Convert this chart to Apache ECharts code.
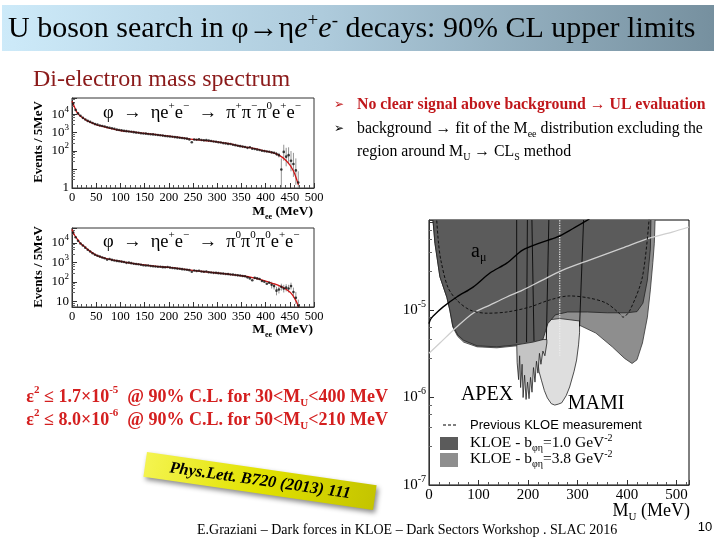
<!DOCTYPE html>
<html><head><meta charset="utf-8">
<script src="https://cdn.jsdelivr.net/npm/echarts@6/dist/echarts.min.js"></script>
<style>html,body{margin:0;padding:0;background:#fff;}#c{width:720px;height:540px;}</style>
</head><body><div id="c"></div>
<script>
// ---------- data: di-electron mass spectra (5 MeV bins) ----------
const binCenters = [2.5,7.5,12.5,17.5,22.5,27.5,32.5,37.5,42.5,47.5,
 52.5,57.5,62.5,67.5,72.5,77.5,82.5,87.5,92.5,97.5,
 102.5,107.5,112.5,117.5,122.5,127.5,132.5,137.5,142.5,147.5,
 152.5,157.5,162.5,167.5,172.5,177.5,182.5,187.5,192.5,197.5,
 202.5,207.5,212.5,217.5,222.5,227.5,232.5,237.5,242.5,247.5,
 252.5,257.5,262.5,267.5,272.5,277.5,282.5,287.5,292.5,297.5,
 302.5,307.5,312.5,317.5,322.5,327.5,332.5,337.5,342.5,347.5,
 352.5,357.5,362.5,367.5,372.5,377.5,382.5,387.5,392.5,397.5,
 402.5,407.5,412.5,417.5,422.5,427.5,432.5,437.5,442.5,447.5,
 452.5,457.5,462.5,467.5];
const events1 = [38000,17000,11000,8200,6300,5100,4300,3800,3300,2900,
 2700,2450,2300,2150,1950,1850,1700,1600,1450,1380,
 1320,1250,1200,1150,1120,1060,1000,980,930,900,
 880,840,820,800,770,740,720,690,660,640,
 620,600,570,550,530,510,490,470,430,300,
 420,410,430,400,380,390,370,350,330,320,
 300,290,270,260,245,240,220,210,195,185,
 175,165,150,160,135,130,120,115,105,100,
 95,92,85,80,70,60,10,90,50,60,
 30,20,9,2];
const events2 = [35000,20000,13000,9500,7500,5800,4500,3700,3000,2500,
 2200,2000,1800,1650,1400,1500,1350,1250,1200,1150,
 1100,1050,950,980,920,860,830,800,760,720,
 700,690,650,640,620,600,600,570,560,580,
 540,520,500,480,470,450,430,420,400,330,
 380,360,370,340,330,340,310,300,290,290,
 280,270,265,255,250,240,235,225,215,210,
 200,195,170,150,120,160,150,140,110,100,
 80,90,70,60,35,40,55,45,50,45,
 60,30,15,6];
const fitMass = [0,2.5,5,10,15,20,25,30,40,50,60,75,100,125,150,175,200,225,250,275,300,325,350,375,400,420,430,440,450,455,460,465,468];
const fitValues1 = [50000,35000,25000,13000,9000,7000,5600,4600,3500,2700,2300,1800,1300,1100,900,770,650,530,425,370,316,250,180,140,100,75,55,35,18,11,6,2.5,1.5];
const fitValues2 = [50000,35000,26000,17000,11500,8500,6800,5200,3400,2400,1900,1500,1150,900,740,620,550,470,390,330,285,245,205,160,110,75,60,45,30,22,14,8,5];
const errMass1 = [422.5,427.5,432.5,437.5,442.5,447.5,452.5,457.5,462.5,467.5];
const errLow1  = [55,45,1,30,15,20,8,4,1.5,1];
const errHigh1 = [90,80,40,220,150,160,100,80,40,8];
const errMass2 = [412.5,417.5,422.5,427.5,432.5,437.5,442.5,447.5,452.5,457.5,462.5,467.5];
const errLow2  = [45,40,20,25,35,28,32,28,40,15,7,5];
const errHigh2 = [100,85,55,60,80,70,75,70,90,50,30,12];

// ---------- data: exclusion plot (M_U [MeV], epsilon^2) ----------
const regionKLOE38 = [[7,2e-4],[8,1.07e-4],[12,5.8e-5],[22,2.4e-5],[36,1.4e-5],[42,1.0e-5],[48,6.4e-6],[58,5.0e-6],[70,4.3e-6],[97,3.8e-6],[137,3.7e-6],[177,3.9e-6],[200,4.2e-6],[220,5.2e-6],[250,6.4e-6],[304,6.7e-6],[337,5.45e-6],[370,3.8e-6],[395,2.8e-6],[410,2.45e-6],[420,2.7e-6],[431,4.2e-6],[441,8.3e-6],[447,1.7e-5],[452,3.5e-5],[455,5.8e-5],[458,2e-4]];
const regionKLOE10 = [[7,2e-4],[8,1.07e-4],[12,5.8e-5],[22,2.4e-5],[36,1.4e-5],[42,1.0e-5],[48,6.6e-6],[58,5.2e-6],[70,4.5e-6],[97,3.9e-6],[137,3.8e-6],[177,4.0e-6],[210,4.3e-6],[230,4.6e-6],[240,7.0e-6],[255,8.8e-6],[280,9.5e-6],[320,9.5e-6],[360,9.3e-6],[400,9.3e-6],[420,9.6e-6],[432,1.2e-5],[441,2.2e-5],[447,5e-5],[449,2e-4]];
const regionMAMI = [[223,7.5e-6],[220,5e-6],[219,2.9e-6],[222,2.0e-6],[227,1.58e-6],[233,1.2e-6],[239,9.9e-7],[247,8.5e-7],[254,8.2e-7],[261,8.4e-7],[268,8.7e-7],[277,1.05e-6],[284,1.32e-6],[293,2.0e-6],[298,2.68e-6],[302,4.0e-6],[304,5.5e-6],[304,7.5e-6],[264,8.0e-6]];
const regionAPEX = [[177,4.4e-6],[178,2.5e-6],[181,1.6e-6],[183,3.0e-6],[185,1.3e-6],[188,2.4e-6],[190,1.0e-6],[193,1.8e-6],[196,9.5e-7],[199,1.5e-6],[202,9.7e-7],[205,1.7e-6],[208,1.15e-6],[211,2.2e-6],[214,1.5e-6],[217,2.6e-6],[220,1.9e-6],[223,3.2e-6],[226,2.4e-6],[230,3.4e-6],[234,3.0e-6],[238,4.2e-6],[238,4.6e-6],[177,4.6e-6]];
const amuCurve = [[0,7.0e-6],[3,7.8e-6],[8,8.5e-6],[28,1.08e-5],[56,1.41e-5],[89,1.83e-5],[123,2.65e-5],[157,3.44e-5],[189,4.85e-5],[223,5.83e-5],[258,6.8e-5],[290,8.5e-5],[324,1.1e-4]];
const lightCurve = [[0,3.2e-6],[22,4.2e-6],[56,6.4e-6],[89,9.2e-6],[123,1.14e-5],[157,1.41e-5],[189,1.69e-5],[229,2.2e-5],[270,2.86e-5],[324,3.73e-5],[390,5.1e-5],[445,6.65e-5],[491,7.8e-5],[525,8.9e-5]];
const prevKLOE = [[15,1.2e-4],[19,6e-5],[24,3.7e-5],[38,1.83e-5],[56,1.3e-5],[83,1.0e-5],[117,9.2e-6],[157,9.5e-6],[203,1.08e-5],[243,1.3e-5],[284,1.45e-5],[324,1.37e-5],[358,1.2e-5],[384,9.2e-6],[392,8.3e-6],[406,1.0e-5],[431,2.4e-5],[445,1.2e-4]];
const apexLines = [[177,2e-4,177,4.2e-6],[199,2e-4,197,4.3e-6],[207,2e-4,212,4.4e-6],[243,2e-4,237,4.6e-6],[314,2e-4,304,6.5e-6]];
const dottedLine = [[264,2e-4],[264,3e-6]];

// ---------- helpers ----------
const SERIF = 'Liberation Serif';
function tok(fs, o, extra) {
  return Object.assign({fontSize: fs, fontFamily: o.family || SERIF, fontWeight: o.weight || 'normal',
    fontStyle: 'normal', fill: o.color || '#000', color: o.color || '#000'}, extra || {});
}
function txt(x, y, text, o) {
  o = o || {};
  const fs = o.size || 14;
  const small = Math.round(fs * 0.62);
  return {type: 'text', x: x, y: y, rotation: o.rot || 0, z: 100, silent: true,
    style: {text: text, fontSize: fs, fontFamily: o.family || SERIF, fontWeight: o.weight || 'normal',
      fontStyle: o.italic ? 'italic' : 'normal', fill: o.color || '#000',
      align: o.align || 'left', textAlign: o.align || 'left', verticalAlign: 'middle', textVerticalAlign: 'middle',
      lineHeight: o.lh || Math.round(fs * 1.3),
      rich: {
        sp: tok(small, o, {verticalAlign: 'top'}),
        sb: tok(small, o, {verticalAlign: 'bottom'}),
        i: tok(fs, o, {fontStyle: 'italic', lineHeight: o.lh || Math.round(fs * 1.3)})
      }}};
}
function powLabelFn(maxExp) {
  return function (v) {
    const l = Math.log10(v), e = Math.round(l);
    if (Math.abs(l - e) > 1e-6 || e > maxExp) return '';
    if (e === 0) return '1';
    if (e === 1) return '10';
    return '10{sp|' + e + '}';
  };
}
function pairs(xs, ys) { return xs.map((x, i) => [x, ys[i]]); }

const axisCol = '#333';
function xAx(g, max, interval, fs) {
  return {gridIndex: g, type: 'value', min: 0, max: max, interval: interval,
    axisLine: {show: true, onZero: false, lineStyle: {color: axisCol}},
    axisTick: {show: true, inside: true, length: 5, lineStyle: {color: axisCol}},
    minorTick: {show: true, splitNumber: 5, length: 3, lineStyle: {color: '#555'}},
    splitLine: {show: false},
    axisLabel: {fontFamily: SERIF, fontSize: fs, color: '#000', margin: 3, showMaxLabel: max === 500}};
}
function yAx(g, min, max, fs, showMin, maxExp) {
  return {gridIndex: g, type: 'log', logBase: 10, min: min, max: max,
    axisLine: {show: true, onZero: false, lineStyle: {color: axisCol}},
    axisTick: {show: true, inside: true, length: 5, lineStyle: {color: axisCol}},
    minorTick: {show: true, splitNumber: 5, length: 3, lineStyle: {color: '#666'}},
    splitLine: {show: false},
    axisLabel: {fontFamily: SERIF, fontSize: fs, color: '#000', margin: 3, lineHeight: Math.round(fs * 1.45),
      showMinLabel: showMin, showMaxLabel: false, formatter: powLabelFn(maxExp),
      rich: {sp: {fontFamily: SERIF, fontSize: Math.round(fs * 0.68), color: '#000', verticalAlign: 'top'}}}};
}
function errSeries(xi, yi, xs, lo, hi) {
  return {type: 'custom', xAxisIndex: xi, yAxisIndex: yi, silent: true, clip: true, z: 2,
    data: xs.map((x, i) => [x, lo[i], hi[i]]),
    renderItem: function (params, api) {
      const a = api.coord([api.value(0), api.value(1)]);
      const b = api.coord([api.value(0), api.value(2)]);
      return {type: 'line', shape: {x1: a[0], y1: a[1], x2: b[0], y2: b[1]}, style: {stroke: '#777', lineWidth: 0.8}};
    }};
}
function polySeries(poly, fill, stroke) {
  return {type: 'custom', xAxisIndex: 2, yAxisIndex: 2, silent: true, clip: true, z: 1,
    data: [poly[0]],
    renderItem: function (params, api) {
      return {type: 'polygon', shape: {points: poly.map(p => api.coord(p))},
        style: {fill: fill, stroke: stroke, lineWidth: 0.8}};
    }};
}

const chart = echarts.init(document.getElementById('c'), null, {renderer: 'canvas'});
const option = {
  animation: false,
  backgroundColor: '#ffffff',
  grid: [
    {left: 72, top: 98, width: 242, height: 90, show: true, borderColor: axisCol, borderWidth: 1, backgroundColor: 'transparent'},
    {left: 72, top: 228, width: 242, height: 79, show: true, borderColor: axisCol, borderWidth: 1, backgroundColor: 'transparent'},
    {left: 429, top: 220, width: 260, height: 265, show: true, borderColor: '#000', borderWidth: 1, backgroundColor: 'transparent'}
  ],
  xAxis: [xAx(0, 500, 50, 12.5), xAx(1, 500, 50, 12.5), xAx(2, 525, 100, 15)],
  yAxis: [yAx(0, 1, 75000, 13, true, 99), yAx(1, 5, 60000, 13, false, 99), yAx(2, 1e-7, 1.07e-4, 15, true, -5)],
  series: [
    errSeries(0, 0, errMass1, errLow1, errHigh1),
    {type: 'line', xAxisIndex: 0, yAxisIndex: 0, data: pairs(fitMass, fitValues1), smooth: 0.3, showSymbol: false,
      lineStyle: {color: '#d01515', width: 1.3}, z: 3, silent: true},
    {type: 'scatter', xAxisIndex: 0, yAxisIndex: 0, data: pairs(binCenters, events1), symbolSize: 2.6,
      itemStyle: {color: '#111'}, z: 4, silent: true},
    errSeries(1, 1, errMass2, errLow2, errHigh2),
    {type: 'line', xAxisIndex: 1, yAxisIndex: 1, data: pairs(fitMass, fitValues2), smooth: 0.3, showSymbol: false,
      lineStyle: {color: '#d01515', width: 1.3}, z: 3, silent: true},
    {type: 'scatter', xAxisIndex: 1, yAxisIndex: 1, data: pairs(binCenters, events2), symbolSize: 2.6,
      itemStyle: {color: '#111'}, z: 4, silent: true},
    polySeries(regionKLOE38, '#8e8e8e', '#333'),
    polySeries(regionMAMI, '#dedede', '#222'),
    polySeries(regionAPEX, '#c4c4c4', '#222'),
    polySeries(regionKLOE10, '#5b5b5b', '#222'),
    {type: 'custom', xAxisIndex: 2, yAxisIndex: 2, silent: true, clip: true, z: 2,
      data: apexLines,
      renderItem: function (params, api) {
        const a = api.coord([api.value(0), api.value(1)]);
        const b = api.coord([api.value(2), api.value(3)]);
        return {type: 'line', shape: {x1: a[0], y1: a[1], x2: b[0], y2: b[1]}, style: {stroke: '#111', lineWidth: 1}};
      }},
    {type: 'line', xAxisIndex: 2, yAxisIndex: 2, data: dottedLine, showSymbol: false, silent: true, z: 3,
      lineStyle: {color: '#eeeeee', width: 1.2, type: 'dotted'}},
    {type: 'line', xAxisIndex: 2, yAxisIndex: 2, data: lightCurve, smooth: 0.3, showSymbol: false, silent: true, z: 3,
      lineStyle: {color: '#cfcfcf', width: 1.3}},
    {type: 'line', xAxisIndex: 2, yAxisIndex: 2, data: prevKLOE, smooth: 0.3, showSymbol: false, silent: true, z: 3,
      lineStyle: {color: '#111', width: 1, type: [3, 2]}},
    {type: 'line', xAxisIndex: 2, yAxisIndex: 2, data: amuCurve, smooth: 0.3, showSymbol: false, silent: true, z: 3,
      lineStyle: {color: '#000', width: 1.4}}
  ],
  graphic: [
    {type: 'rect', z: 0, silent: true, shape: {x: 2, y: 5, width: 712, height: 46},
      style: {fill: new echarts.graphic.LinearGradient(0, 0, 1, 0, [
        {offset: 0, color: '#cdeaf9'}, {offset: 0.45, color: '#aecbdc'}, {offset: 1, color: '#76909f'}])}},
    txt(8, 29, 'U boson search in φ→η{i|e}{sp|+}{i|e}{sp|-} decays: 90% CL upper limits', {size: 30, lh: 34}),
    txt(33, 80, 'Di-electron mass spectrum', {size: 24, color: '#8b1a1a'}),
    txt(334, 105, '➢', {size: 12, family: 'DejaVu Sans', color: '#c0171b'}),
    txt(357, 105, 'No clear signal above background → UL evaluation', {size: 15.8, weight: 'bold', color: '#c0171b'}),
    txt(334, 129, '➢', {size: 12, family: 'DejaVu Sans'}),
    txt(357, 129, 'background → fit of the M{sb|ee} distribution excluding the', {size: 15.8, lh: 20}),
    txt(357, 152, 'region around M{sb|U} → CL{sb|S} method', {size: 15.8, lh: 20}),
    txt(103, 113, 'φ  →  ηe{sp|+}e{sp|−}  →  π{sp|+}π{sp|−}π{sp|0}e{sp|+}e{sp|−}', {size: 18.5}),
    txt(103, 242, 'φ  →  ηe{sp|+}e{sp|−}  →  π{sp|0}π{sp|0}π{sp|0}e{sp|+}e{sp|−}', {size: 18.5}),
    txt(39, 142, 'Events / 5MeV', {size: 13, weight: 'bold', rot: Math.PI / 2, align: 'center'}),
    txt(39, 267, 'Events / 5MeV', {size: 13, weight: 'bold', rot: Math.PI / 2, align: 'center'}),
    txt(313, 212, 'M{sb|ee} (MeV)', {size: 13.5, weight: 'bold', align: 'right', lh: 18}),
    txt(313, 330, 'M{sb|ee} (MeV)', {size: 13.5, weight: 'bold', align: 'right', lh: 18}),
    txt(388, 397, 'ε{sp|2} ≤ 1.7×10{sp|-5}  @ 90% C.L. for 30<M{sb|U}<400 MeV', {size: 18, weight: 'bold', color: '#d41f1f', align: 'right', lh: 24}),
    txt(388, 420, 'ε{sp|2} ≤ 8.0×10{sp|-6}  @ 90% C.L. for 50<M{sb|U}<210 MeV', {size: 18, weight: 'bold', color: '#d41f1f', align: 'right', lh: 24}),
    {type: 'group', x: 260, y: 481, rotation: -0.143, z: 100, silent: true, children: [
      {type: 'rect', shape: {x: -116, y: -12.5, width: 232, height: 25},
        style: {fill: new echarts.graphic.LinearGradient(0, 0, 1, 1, [
          {offset: 0, color: '#f4f450'}, {offset: 0.5, color: '#e2e200'}, {offset: 1, color: '#c4c400'}]),
          shadowBlur: 5, shadowColor: 'rgba(0,0,0,0.45)', shadowOffsetX: 2, shadowOffsetY: 3}},
      {type: 'text', style: {text: 'Phys.Lett. B720 (2013) 111', x: 0, y: 0, align: 'center', verticalAlign: 'middle',
        textAlign: 'center', textVerticalAlign: 'middle',
        fontSize: 16.5, fontFamily: SERIF, fontWeight: 'bold', fontStyle: 'italic', fill: '#000'}}
    ]},
    txt(471, 252, 'a{sb|μ}', {size: 20, lh: 24}),
    txt(487, 395, 'APEX', {size: 20, align: 'center'}),
    txt(596, 404, 'MAMI', {size: 20, align: 'center'}),
    {type: 'line', z: 100, silent: true, shape: {x1: 443, y1: 425, x2: 457, y2: 425}, style: {stroke: '#000', lineWidth: 1.2, lineDash: [3, 2]}},
    txt(470, 425, 'Previous KLOE measurement', {size: 13, family: 'Liberation Sans'}),
    {type: 'rect', z: 100, silent: true, shape: {x: 440, y: 437, width: 18, height: 13}, style: {fill: '#5b5b5b'}},
    txt(470, 443, 'KLOE - b{sb|φη}=1.0 GeV{sp|-2}', {size: 15.5, lh: 20}),
    {type: 'rect', z: 100, silent: true, shape: {x: 440, y: 453, width: 18, height: 14}, style: {fill: '#8e8e8e'}},
    txt(470, 459, 'KLOE - b{sb|φη}=3.8 GeV{sp|-2}', {size: 15.5, lh: 20}),
    txt(690, 511, 'M{sb|U} (MeV)', {size: 18, align: 'right', lh: 24}),
    txt(197, 530, 'E.Graziani – Dark forces in KLOE – Dark Sectors Workshop . SLAC 2016', {size: 14}),
    txt(705, 527, '10', {size: 13, family: 'Liberation Sans', align: 'center'})
  ]
};
chart.setOption(option);
</script></body></html>
